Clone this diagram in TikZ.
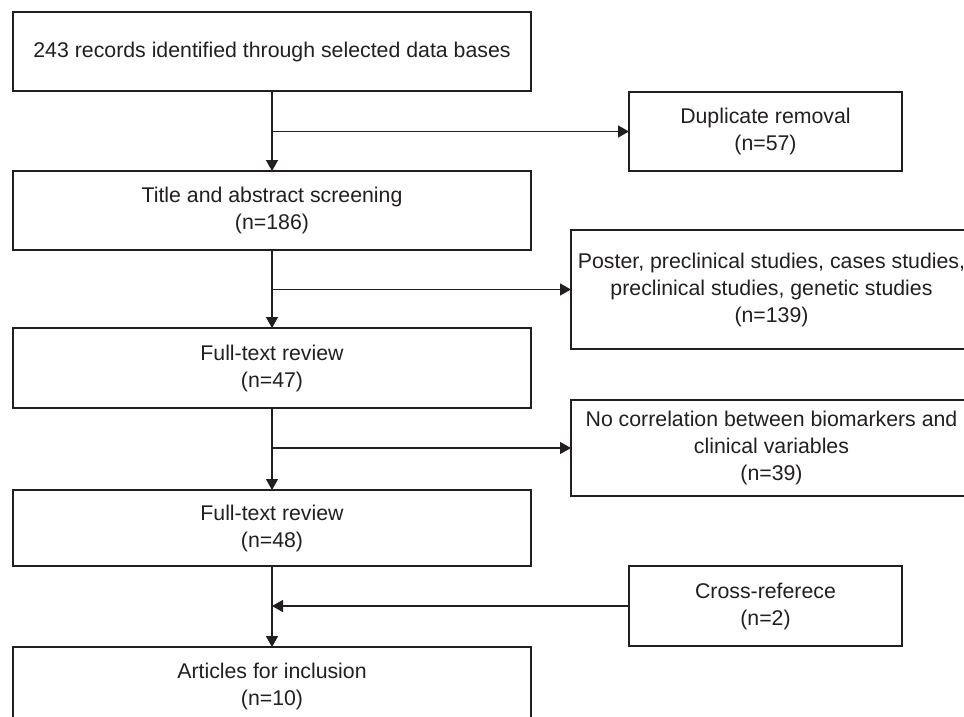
\documentclass[tikz,border=0pt]{standalone}
\usepackage{fontspec}
\setmainfont{Liberation Sans}
\usetikzlibrary{arrows.meta}
\definecolor{ink}{HTML}{231F20}
\tikzset{
  box/.style={draw=ink, line width=1.4pt, rectangle, align=center, text=ink,
    font=\fontsize{21.3}{27}\selectfont, inner sep=0pt, outer sep=0pt},
  arr/.style={draw=ink, line width=1.4pt, -{Triangle[length=11pt,width=12pt]}},
  ln/.style={draw=ink, line width=1.4pt}
}
\begin{document}
\begin{tikzpicture}[x=1pt,y=-1pt]
\useasboundingbox (0,0) rectangle (964,716);
\clip (0,0) rectangle (964,716);
\fill[white] (0,0) rectangle (964,716);
% main column
\node[box, minimum width=518pt, minimum height=79pt] (b1) at (272,51.5) {243 records identified through selected data bases};
\node[box, minimum width=518pt, minimum height=79pt] (b2) at (272,210.5) {Title and abstract screening\\(n=186)};
\node[box, minimum width=518pt, minimum height=80pt] (b3) at (272,368) {Full-text review\\(n=47)};
\node[box, minimum width=518pt, minimum height=76pt] (b4) at (272,528) {Full-text review\\(n=48)};
\node[box, minimum width=518pt, minimum height=78pt] (b5) at (272,686) {Articles for inclusion\\(n=10)};
% side boxes
\node[box, minimum width=273pt, minimum height=79pt] (dup) at (765.5,131.5) {Duplicate removal\\(n=57)};
\node[box, minimum width=401pt, minimum height=119pt] (poster) at (771.5,289.5) {Poster, preclinical studies, cases studies,\\preclinical studies, genetic studies\\(n=139)};
\node[box, minimum width=401pt, minimum height=96pt] (nocorr) at (771.5,448) {No correlation between biomarkers and\\clinical variables\\(n=39)};
\node[box, minimum width=273pt, minimum height=80pt] (cross) at (765.5,606) {Cross-referece\\(n=2)};
% vertical flow
\draw[arr] (b1) -- (b2);
\draw[arr] (b2) -- (b3);
\draw[arr] (b3) -- (b4);
\draw[arr] (b4) -- (b5);
% branches
\draw[arr] (b1.south |- dup.west) -- (dup.west);
\draw[arr] (b2.south |- poster.west) -- (poster.west);
\draw[arr] (b3.south |- nocorr.west) -- (nocorr.west);
\draw[arr] (cross.west) -- (b4.south |- cross.west);
\end{tikzpicture}
\end{document}
